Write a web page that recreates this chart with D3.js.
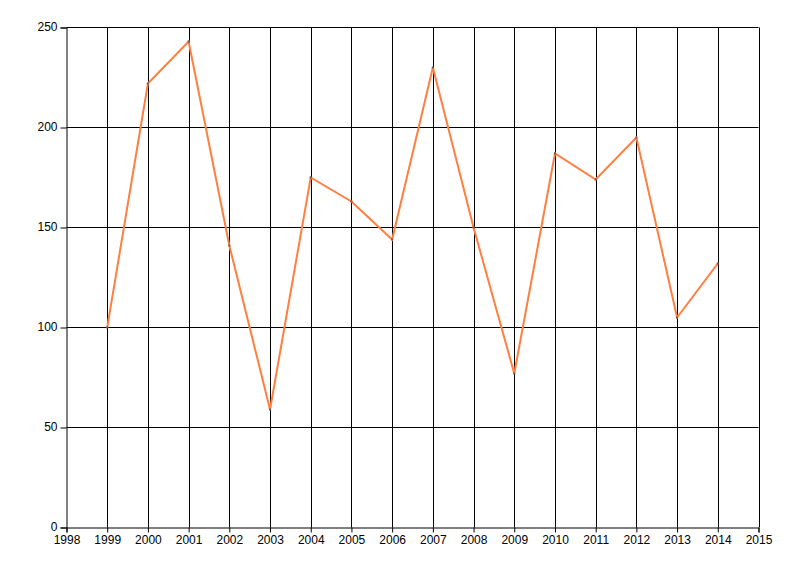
<!DOCTYPE html>
<html><head><meta charset="utf-8">
<script src="https://cdn.jsdelivr.net/npm/d3@7/dist/d3.min.js"></script>
<style>body{margin:0;background:#fff}svg{display:block}</style>
</head><body>
<svg id="c" width="800" height="576"></svg>
<script>
const years = [1999,2000,2001,2002,2003,2004,2005,2006,2007,2008,2009,2010,2011,2012,2013,2014];
const values = [100,222,243,141,59,175,163,144,230,150,77,187,174,195,105,132];
const xTicks = d3.range(1998, 2016);
const yTicks = [0,50,100,150,200,250];

const svg = d3.select("#c");
const x = d3.scaleLinear().domain([1998, 2015]).range([66.5, 758.5]);
const y = d3.scaleLinear().domain([0, 250]).range([527.5, 27.5]);
const font = "'Liberation Sans', Arial, sans-serif";

// grid
svg.append("g").selectAll("line").data(xTicks.slice(1)).join("line")
  .attr("x1", d => Math.round(x(d)) + 0.5).attr("x2", d => Math.round(x(d)) + 0.5)
  .attr("y1", y(250)).attr("y2", y(0)).attr("stroke", "#000");
svg.append("g").selectAll("line").data(yTicks.slice(1)).join("line")
  .attr("x1", x(1998)).attr("x2", x(2015))
  .attr("y1", d => y(d)).attr("y2", d => y(d)).attr("stroke", "#000");

// axes
const xAxis = d3.axisBottom(x).tickValues(xTicks).tickFormat(d3.format("d")).tickSizeOuter(0).tickSize(5).tickPadding(3);
const gx = svg.append("g").attr("transform", `translate(0,${y(0)})`).call(xAxis);
const yAxis = d3.axisLeft(y).tickValues(yTicks).tickSizeOuter(0).tickSize(6).tickPadding(3);
const gy = svg.append("g").attr("transform", `translate(${x(1998)},0)`).call(yAxis);
[gx, gy].forEach(g => {
  g.select(".domain").attr("stroke", "#000");
  g.selectAll(".tick line").attr("stroke", "#000");
  g.selectAll(".tick text").attr("fill", "#000").style("font-family", font).style("font-size", "12px");
});
gy.selectAll(".tick text").attr("dy", "0.28em");

// line
const line = d3.line().x((d, i) => x(years[i])).y(d => y(d));
svg.append("path").datum(values).attr("d", line)
  .attr("fill", "none").attr("stroke", "#ff7f40").attr("stroke-width", 2).attr("stroke-linejoin", "miter");
svg.append("g").selectAll("rect").data(values).join("rect")
  .attr("x", (d, i) => x(years[i]) - 1).attr("y", d => y(d) - 1)
  .attr("width", 2).attr("height", 2).attr("fill", "#6e5a50");
</script>
</body></html>
